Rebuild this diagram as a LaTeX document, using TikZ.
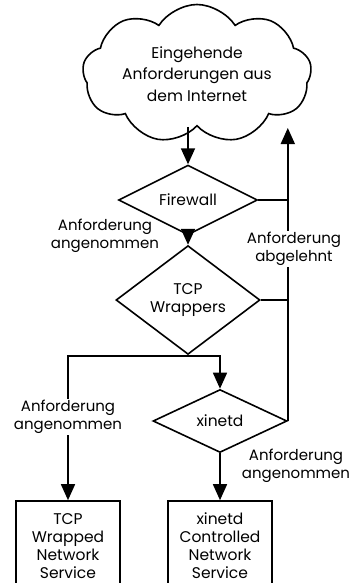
\documentclass[tikz,border=0pt]{standalone}
\usepackage{fontspec}
\setmainfont{Poppins}
\usetikzlibrary{arrows.meta,shapes.geometric,shapes.symbols}
\tikzset{
  flowcloud/.style={draw, cloud, cloud puffs=9, cloud puff arc=115, cloud ignores aspect,
                    line width=1.6pt, align=center, inner sep=0pt,
                    minimum width=229pt, minimum height=139pt,
                    font=\fontsize{15.5}{21.5}\selectfont},
  flowdiam/.style={draw, diamond, line width=1.6pt, align=center, inner sep=0pt,
                   font=\fontsize{15.5}{18}\selectfont},
  flowbox/.style={draw, line width=1.6pt, align=center, inner sep=0pt,
                  minimum width=104pt, minimum height=90pt,
                  font=\fontsize{15.5}{18}\selectfont},
  flowline/.style={line width=1.6pt},
  flowar/.style={-{Triangle[length=16pt, width=14pt]}, line width=1.6pt},
  flowlab/.style={align=center, inner sep=1pt, font=\fontsize{15}{17.5}\selectfont},
}

\begin{document}
\begin{tikzpicture}[x=1pt, y=-1pt]
  \useasboundingbox (0,0) rectangle (359,583);
  \clip (0,0) rectangle (359,583);

  \node[flowcloud] (cloud) at (197,74) {Eingehende\\Anforderungen aus\\dem Internet};

  \node[flowdiam, minimum width=139pt, minimum height=57pt] (fw) at (188,200) {Firewall};
  \node[flowdiam, minimum width=144pt, minimum height=68pt] (tcpw) at (188,300) {TCP\\Wrappers};
  \node[flowdiam, minimum width=134pt, minimum height=63pt] (xin) at (220,421) {xinetd};

  \node[flowbox] (wrapped) at (68,546) {TCP\\Wrapped\\Network\\Service};
  \node[flowbox] (ctrl) at (220,546) {xinetd\\Controlled\\Network\\Service};

  \coordinate (split) at (188,356);
  \coordinate (backy) at (0,128);
  \coordinate (back) at (xin.east |- backy);

  % accepted path
  \draw[flowar] (cloud.south -| fw.north) -- (fw.north);
  \draw[flowar] (fw) -- (tcpw);
  \draw[flowline] (tcpw.south) -- (split);
  \draw[flowar] (split) -| (wrapped.north);
  \draw[flowar] (split) -| (xin.north);
  \draw[flowar] (xin) -- (ctrl);

  % rejected path
  \draw[flowline] (fw.east) -- (fw.east -| back);
  \draw[flowline] (tcpw.east) -- (tcpw.east -| back);
  \draw[flowar] (xin.east) -- (back);

  \node[flowlab] (labfw) at (105,236) {Anforderung\\angenommen};
  \node[flowlab, fill=white] (labrej) at (294,249) {Anforderung\\abgelehnt};
  \node[flowlab, fill=white] (labwr) at (68,417) {Anforderung\\angenommen};
  \node[flowlab] (labxin) at (296,466) {Anforderung\\angenommen};
\end{tikzpicture}
\end{document}
